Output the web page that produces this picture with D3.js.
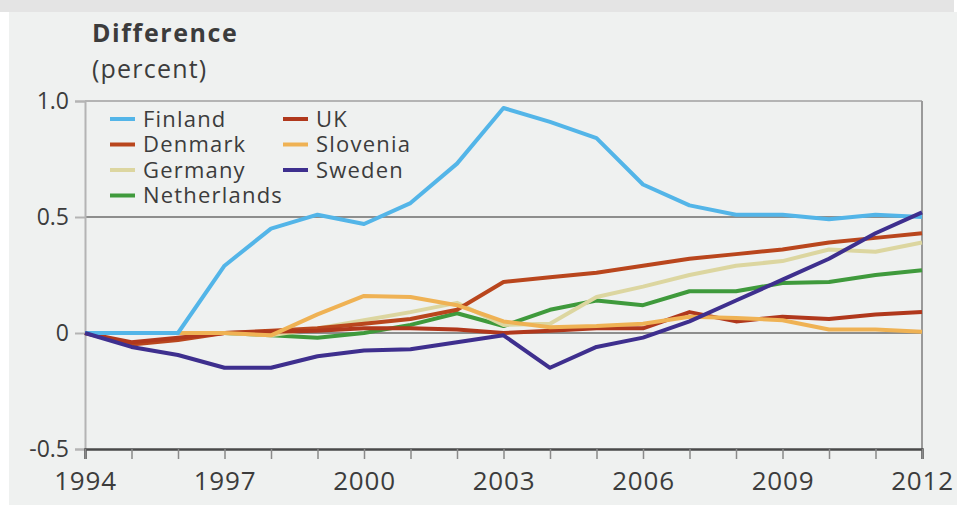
<!DOCTYPE html>
<html>
<head>
<meta charset="utf-8">
<script src="https://cdn.jsdelivr.net/npm/d3@7/dist/d3.min.js"></script>
<style>
  html, body { margin: 0; padding: 0; background: #ffffff; }
  svg { display: block; }
  text { font-family: "Open Sans", "Noto Sans", sans-serif; fill: #3c3c3c; }
</style>
</head>
<body>
<svg id="chart" width="957" height="505"></svg>
<script>
const years = d3.range(1994, 2013);
const yearTicks = [1994, 1997, 2000, 2003, 2006, 2009, 2012];
const valueTicks = [-0.5, 0, 0.5, 1.0];
const valueTickLabels = ["-0.5", "0", "0.5", "1.0"];

const countries = ["Netherlands", "Germany", "Denmark", "UK", "Slovenia", "Finland", "Sweden"];
const legendOrder = ["Finland", "Denmark", "Germany", "Netherlands", "UK", "Slovenia", "Sweden"];
const colors = ["#3f9a3c", "#dcd6a0", "#b9461d", "#b0381c", "#efb254", "#53b5e8", "#3e2f8e"];

const finland     = [0, 0, 0, 0.29, 0.45, 0.51, 0.47, 0.56, 0.73, 0.97, 0.91, 0.84, 0.64, 0.55, 0.51, 0.51, 0.49, 0.51, 0.50];
const denmark     = [0, -0.05, -0.03, 0, 0.01, 0.02, 0.04, 0.06, 0.10, 0.22, 0.24, 0.26, 0.29, 0.32, 0.34, 0.36, 0.39, 0.41, 0.43];
const uk          = [0, -0.04, -0.02, 0, 0.005, 0.01, 0.02, 0.02, 0.015, 0, 0.01, 0.02, 0.02, 0.09, 0.05, 0.07, 0.06, 0.08, 0.09];
const slovenia    = [0, 0, 0, 0, -0.01, 0.08, 0.16, 0.155, 0.12, 0.05, 0.025, 0.03, 0.04, 0.07, 0.065, 0.055, 0.015, 0.015, 0.005];
const germany     = [0, 0, 0, 0, -0.01, 0.02, 0.055, 0.09, 0.13, 0.035, 0.04, 0.155, 0.20, 0.25, 0.29, 0.31, 0.36, 0.35, 0.39];
const netherlands = [0, 0, 0, 0, -0.01, -0.02, 0, 0.035, 0.085, 0.03, 0.10, 0.14, 0.12, 0.18, 0.18, 0.215, 0.22, 0.25, 0.27];
const sweden      = [0, -0.06, -0.095, -0.15, -0.15, -0.10, -0.075, -0.07, -0.04, -0.01, -0.15, -0.06, -0.02, 0.05, 0.14, 0.23, 0.32, 0.43, 0.52];

const seriesValues = {
  "Finland": finland, "Denmark": denmark, "UK": uk, "Slovenia": slovenia,
  "Germany": germany, "Netherlands": netherlands, "Sweden": sweden
};

const svg = d3.select("#chart");
const W = 957, H = 505;

// backgrounds
svg.append("rect").attr("x", 0).attr("y", 0).attr("width", 954).attr("height", 12).attr("fill", "#e4e4e4");
svg.append("rect").attr("x", 9).attr("y", 12).attr("width", W - 9).attr("height", H - 12).attr("fill", "#eff1f0");

const x = d3.scaleLinear().domain([1994, 2012]).range([85, 922]);
const y = d3.scaleLinear().domain([-0.5, 1.0]).range([449, 101]);
const color = d3.scaleOrdinal().domain(countries).range(colors);

// gridlines at 0 and 0.5
svg.append("g").selectAll("line").data([0, 0.5]).join("line")
  .attr("x1", x(1994)).attr("x2", x(2012))
  .attr("y1", d => y(d)).attr("y2", d => y(d))
  .attr("stroke", "#6d6d6d").attr("stroke-width", 1.3);

// top frame and right frame
svg.append("line").attr("x1", x(1994)).attr("x2", x(2012)).attr("y1", y(1)).attr("y2", y(1))
  .attr("stroke", "#b4b4b4").attr("stroke-width", 2);
svg.append("line").attr("x1", x(2012)).attr("x2", x(2012)).attr("y1", y(1)).attr("y2", y(-0.5))
  .attr("stroke", "#9a9a9a").attr("stroke-width", 2);

// y axis
const yAxis = d3.axisLeft(y).tickValues(valueTicks)
  .tickFormat((d, i) => valueTickLabels[i]).tickSize(10).tickPadding(6);
const gy = svg.append("g").attr("transform", `translate(${x(1994)},0)`).call(yAxis);
gy.select(".domain").attr("stroke", "#b4b4b4").attr("stroke-width", 2);
gy.selectAll(".tick line").attr("stroke", "#b4b4b4").attr("stroke-width", 2);
gy.selectAll(".tick text").attr("font-size", 23).attr("fill", "#3c3c3c")
  .attr("font-family", "Open Sans, sans-serif");

// x axis
const xAxis = d3.axisBottom(x).tickValues(years)
  .tickFormat(d => yearTicks.includes(d) ? String(d) : "").tickSize(10).tickPadding(12);
const gx = svg.append("g").attr("transform", `translate(0,${y(-0.5)})`).call(xAxis);
gx.select(".domain").attr("stroke", "#4a4a4a").attr("stroke-width", 2.5);
gx.selectAll(".tick line").attr("stroke", "#8a8a8a").attr("stroke-width", 1.5);
gx.selectAll(".tick text").attr("font-size", 26).attr("letter-spacing", 0.8).attr("fill", "#3c3c3c")
  .attr("font-family", "Open Sans, sans-serif").attr("dy", "0.72em");

// axis title
svg.append("text").attr("x", 92).attr("y", 42).attr("font-size", 25).attr("font-weight", 700)
  .attr("letter-spacing", 1.6).attr("fill", "#3c3c3c").text("Difference");
svg.append("text").attr("x", 92).attr("y", 78).attr("font-size", 25)
  .attr("letter-spacing", 1.2).attr("fill", "#3c3c3c").text("(percent)");

// lines
const line = d3.line().x((d, i) => x(years[i])).y(d => y(d));
svg.append("g").selectAll("path").data(countries).join("path")
  .attr("d", c => line(seriesValues[c]))
  .attr("fill", "none")
  .attr("stroke", c => color(c))
  .attr("stroke-width", 4)
  .attr("stroke-linejoin", "round");

// legend
const legend = svg.append("g");
legendOrder.forEach((c, i) => {
  const col = i < 4 ? 0 : 1;
  const row = i < 4 ? i : i - 4;
  const lx = col === 0 ? 110 : 283;
  const ly = 119 + row * 25.5;
  legend.append("line").attr("x1", lx).attr("x2", lx + 25).attr("y1", ly).attr("y2", ly)
    .attr("stroke", color(c)).attr("stroke-width", 4);
  legend.append("text").attr("x", lx + 33).attr("y", ly).attr("dy", "0.35em")
    .attr("font-size", 22).attr("letter-spacing", 1.2).attr("fill", "#3c3c3c").text(c);
});
</script>
</body>
</html>
